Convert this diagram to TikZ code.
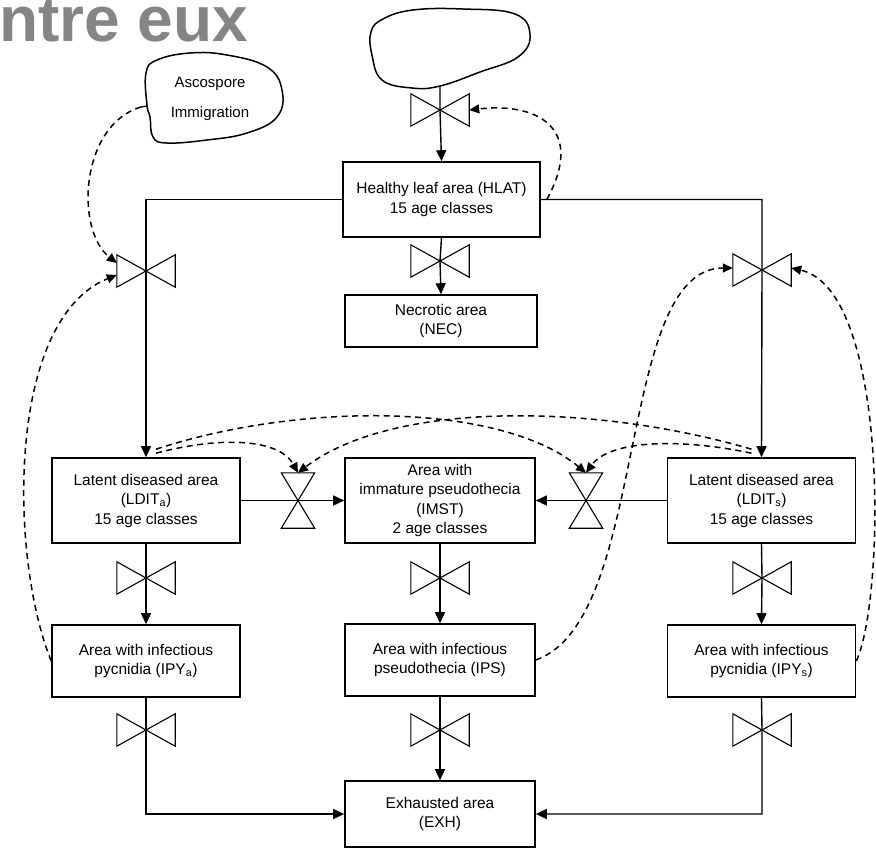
\documentclass[tikz,border=0pt]{standalone}
\usepackage{fontspec}
\setmainfont{Liberation Sans}
\usetikzlibrary{arrows.meta,calc}
\definecolor{headgray}{HTML}{858585}
\begin{document}
\begin{tikzpicture}[x=1pt,y=-1pt,
  stock/.style={draw, line width=1.6pt, align=center, inner sep=0pt,
    font=\fontsize{15.5}{19.5}\selectfont},
  wide/.style={minimum width=188pt, minimum height=85pt},
  low/.style={minimum width=188pt, minimum height=72pt},
  flow/.style={line width=1.4pt, -{Triangle[length=11pt,width=10pt]}},
  info/.style={line width=1.5pt, dash pattern=on 6pt off 4.5pt,
    -{Triangle[length=10pt,width=9pt]}},
  hvalve/.style={inner sep=0pt, minimum width=58pt, minimum height=32pt},
  vvalve/.style={inner sep=0pt, minimum width=33pt, minimum height=55pt},
  valveline/.style={line width=1.1pt, line join=miter},
  blob/.style={line width=1.5pt}]
\useasboundingbox (0,0) rectangle (876,849);
\clip (0,0) rectangle (876,849);

% heading fragment
\node[anchor=base west, inner sep=0pt, text=headgray,
  font=\fontsize{64}{64}\selectfont\bfseries] (heading) at (-1,41) {ntre eux};

% source cloud and ascospore bubble
\draw[blob] plot[smooth cycle, tension=0.7] coordinates {(371,32) (383,19) (413,10) (463,9) (515,14)
  (530,35) (518,57) (480,72) (440,86) (412,88) (382,80) (372,55)};
\coordinate (cloudbase) at (440,86);
\draw[blob] plot[smooth cycle, tension=0.7] coordinates {(147,105) (146,73) (157,60) (190,53) (227,55) (267,67)
  (282,90) (277,117) (247,133) (207,140) (167,143) (153,137) (150,117)};
\draw[line width=1.3pt] (141,107) -- (147,106);
\coordinate (asco) at (141,107);
\node[align=center, inner sep=0pt, font=\fontsize{15}{30}\selectfont] (asctext) at (210,99)
  {Ascospore\\Immigration};

% stocks
\node[stock, minimum width=197pt, minimum height=75pt] (hlat) at (441.5,199.5)
  {Healthy leaf area (HLAT)\\15 age classes};
\node[stock, minimum width=192pt, minimum height=52pt] (nec) at (441,321)
  {Necrotic area\\(NEC)};
\node[stock, wide] (ldita) at (146,500.5)
  {Latent diseased area\\(LDIT\textsubscript{a})\\15 age classes};
\node[stock, wide, minimum width=190pt] (imst) at (440,500.5)
  {Area with\\immature pseudothecia\\(IMST)\\2 age classes};
\node[stock, wide] (ldits) at (761.5,500.5)
  {Latent diseased area\\(LDIT\textsubscript{s})\\15 age classes};
\node[stock, low] (ipya) at (146,661)
  {Area with infectious\\pycnidia (IPY\textsubscript{a})};
\node[stock, low, minimum width=190pt] (ips) at (440,660)
  {Area with infectious\\pseudothecia (IPS)};
\node[stock, low] (ipys) at (761.5,661)
  {Area with infectious\\pycnidia (IPY\textsubscript{s})};
\node[stock, minimum width=190pt, minimum height=66pt] (exh) at (440,814)
  {Exhausted area\\(EXH)};

% rate valves
\node[hvalve] (vtop) at (440,110) {};
\node[hvalve] (vnec) at (440,261) {};
\node[hvalve] (vl) at (146,271) {};
\node[hvalve] (vr) at (762,270) {};
\node[vvalve] (vml) at (298,500.5) {};
\node[vvalve] (vmr) at (586,500.5) {};
\node[hvalve] (va2) at (146,578) {};
\node[hvalve] (vm2) at (440,578) {};
\node[hvalve] (vr2) at (762,578) {};
\node[hvalve] (va3) at (146,730) {};
\node[hvalve] (vm3) at (440,730) {};
\node[hvalve] (vr3) at (762,730) {};
\foreach \v in {vtop,vnec,vl,vr,va2,vm2,vr2,va3,vm3,vr3}
  \draw[valveline] (\v.north west) -- (\v.south east) -- (\v.north east) -- (\v.south west) -- cycle;
\foreach \v in {vml,vmr}
  \draw[valveline] (\v.north west) -- (\v.north east) -- (\v.south west) -- (\v.south east) -- cycle;

% material flows
\draw[flow] (cloudbase) -- (vtop.center) -- (hlat.north);
\draw[flow] (hlat.south) -- (vnec.center) -- (nec.north);
\draw[flow] (hlat.west) -- (vl |- hlat.west) -- (vl.center) -- (ldita.north);
\draw[flow] (hlat.east) -- (vr |- hlat.east) -- (vr.center) -- (ldits.north);
\draw[flow] (ldita.east) -- (vml.center) -- (imst.west);
\draw[flow] (ldits.west) -- (vmr.center) -- (imst.east);
\draw[flow] (ldita.south) -- (va2.center) -- (ipya.north);
\draw[flow] (imst.south) -- (vm2.center) -- (ips.north);
\draw[flow] (ldits.south) -- (vr2.center) -- (ipys.north);
\draw[flow] (ipya.south) -- (va3.center) -- (va3 |- exh.west) -- (exh.west);
\draw[flow] (ips.south) -- (vm3.center) -- (exh.north);
\draw[flow] (ipys.south) -- (vr3.center) -- (vr3 |- exh.east) -- (exh.east);

% information links
\draw[info] ([xshift=6pt]hlat.east) .. controls (585,130) and (540,102) .. (vtop.east);
\draw[info] (asco) .. controls (80,125) and (75,230) .. ([yshift=8pt]vl.west);
\draw[info] (ipya.west) .. controls (10,560) and (5,320) .. ([yshift=-4pt]vl.west);
\draw[info] (ips.east) .. controls (650,620) and (615,268) .. ([yshift=2pt]vr.west);
\draw[info] (ipys.east) .. controls (885,600) and (890,290) .. ([yshift=2pt]vr.east);
\draw[info] ([xshift=10pt,yshift=4pt]ldita.north) .. controls (225,435) and (280,440) .. (vml.north);
\draw[info] ([xshift=10pt,yshift=8pt]ldita.north) .. controls (300,402) and (500,402) .. (vmr.north);
\draw[info] ([xshift=-10pt,yshift=4pt]ldits.north) .. controls (680,438) and (610,440) .. (vmr.north);
\draw[info] ([xshift=-10pt,yshift=8pt]ldits.north) .. controls (590,402) and (390,402) .. (vml.north);
\end{tikzpicture}
\end{document}
